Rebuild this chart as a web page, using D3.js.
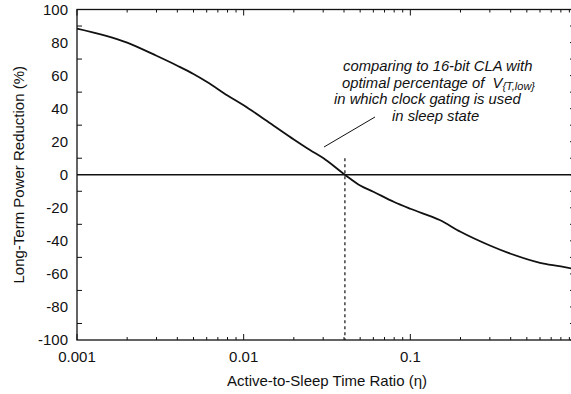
<!DOCTYPE html>
<html>
<head>
<meta charset="utf-8">
<script src="https://cdn.jsdelivr.net/npm/d3@7"></script>
<style>
  body { margin: 0; background: #fff; }
  text { font-family: "Liberation Sans", Arial, sans-serif; fill: #111; }
</style>
</head>
<body>
<div id="chart"></div>
<script>
// data
const ratio = [0.001, 0.002, 0.003, 0.004, 0.005, 0.006, 0.008, 0.01, 0.015, 0.02, 0.025, 0.03,
               0.0405, 0.05, 0.06, 0.08, 0.1, 0.15, 0.2, 0.3, 0.4, 0.6, 0.8, 1.0];
const reduction = [88.5, 80, 72, 66, 61, 56.3, 48, 42, 30, 21.4, 15, 10.1,
                   0, -6.5, -10.3, -16.5, -20.6, -27.4, -34.5, -42.8, -47.8, -53.3, -55.5, -57.4];
const yTicks = [100, 80, 60, 40, 20, 0, -20, -40, -60, -80, -100];
const yMinor = [90, 70, 50, 30, 10, -10, -30, -50, -70, -90];
const xTicks = [0.001, 0.01, 0.1];
const crossAt = 0.0405;
const note = ["comparing to 16-bit CLA with", "optimal percentage of\u00a0\u00a0V", "in which clock gating is used", "in sleep state"];

const W = 571, H = 394;
const margin = {left: 77, top: 9.5, right: -6, bottom: 54};
const width = W - margin.left - margin.right;
const height = H - margin.top - margin.bottom;

const svg = d3.select('#chart').append('svg')
    .attr('width', W).attr('height', H);
const g = svg.append('g').attr('transform', `translate(${margin.left}, ${margin.top})`);

const x = d3.scaleLog().domain([0.001, 1]).range([0, width]);
const y = d3.scaleLinear().domain([-100, 100]).range([height, 0]);

// minor log ticks
const minor = [];
[0.001, 0.01, 0.1].forEach((d) => { for (let k = 2; k <= 9; k++) minor.push(d * k); });

// frame
g.append('rect').attr('width', width).attr('height', height)
    .attr('fill', 'none').attr('stroke', '#111').attr('stroke-width', 1.3);

// x ticks bottom + top
const xt = g.append('g').attr('stroke', '#111').attr('stroke-width', 1);
xTicks.concat([1]).forEach((d) => {
    xt.append('line').attr('x1', x(d)).attr('x2', x(d)).attr('y1', height).attr('y2', height - 6);
    xt.append('line').attr('x1', x(d)).attr('x2', x(d)).attr('y1', 0).attr('y2', 6);
});
minor.forEach((d) => {
    xt.append('line').attr('x1', x(d)).attr('x2', x(d)).attr('y1', height).attr('y2', height - 3);
    xt.append('line').attr('x1', x(d)).attr('x2', x(d)).attr('y1', 0).attr('y2', 3);
});
g.selectAll('.xlab').data(xTicks).join('text')
    .attr('x', (d) => x(d)).attr('y', height + 22)
    .attr('text-anchor', 'middle').attr('font-size', 15)
    .text((d) => d3.format('')(d));

// y ticks
yMinor.forEach((d) => {
    xt.append('line').attr('x1', 0).attr('x2', 5).attr('y1', y(d)).attr('y2', y(d));
});
yTicks.concat(yMinor).forEach((d) => {
    xt.append('line').attr('x1', width).attr('x2', width - 7).attr('y1', y(d)).attr('y2', y(d));
});
g.selectAll('.ylab').data(yTicks).join('text')
    .attr('x', -9).attr('y', (d) => y(d) + 5)
    .attr('text-anchor', 'end').attr('font-size', 15)
    .text((d) => d);

// zero line
g.append('line').attr('x1', 0).attr('x2', width).attr('y1', y(0)).attr('y2', y(0))
    .attr('stroke', '#111').attr('stroke-width', 1.3);

// dashed marker
g.append('line').attr('x1', x(crossAt)).attr('x2', x(crossAt))
    .attr('y1', y(10)).attr('y2', height)
    .attr('stroke', '#111').attr('stroke-width', 1.2).attr('stroke-dasharray', '3,3');

// curve
const line = d3.line().x((d, i) => x(ratio[i])).y((d) => y(d)).curve(d3.curveMonotoneX);
g.append('path').datum(reduction).attr('d', line)
    .attr('fill', 'none').attr('stroke', '#111').attr('stroke-width', 1.8);

// annotation
const ann = svg.append('g').attr('font-size', 14.8).attr('font-style', 'italic');
const nx = [343, 342, 334, 392];
note.forEach((t, i) => {
    const tx = ann.append('text').attr('x', nx[i]).attr('y', 71 + i * 16.5).text(t);
    if (i === 1) tx.append('tspan').attr('font-size', 11).attr('dy', 2).text('{T,low}');
});
svg.append('line').attr('x1', 324).attr('y1', 147).attr('x2', 375).attr('y2', 117)
    .attr('stroke', '#111').attr('stroke-width', 1);

// axis titles
svg.append('text').attr('x', 327).attr('y', 386).attr('text-anchor', 'middle')
    .attr('font-size', 15).text('Active-to-Sleep Time Ratio (\u03b7)');
svg.append('text').attr('transform', `translate(24, ${margin.top + height / 2}) rotate(-90)`)
    .attr('text-anchor', 'middle').attr('font-size', 15).text('Long-Term Power Reduction (%)');
</script>
</body>
</html>
